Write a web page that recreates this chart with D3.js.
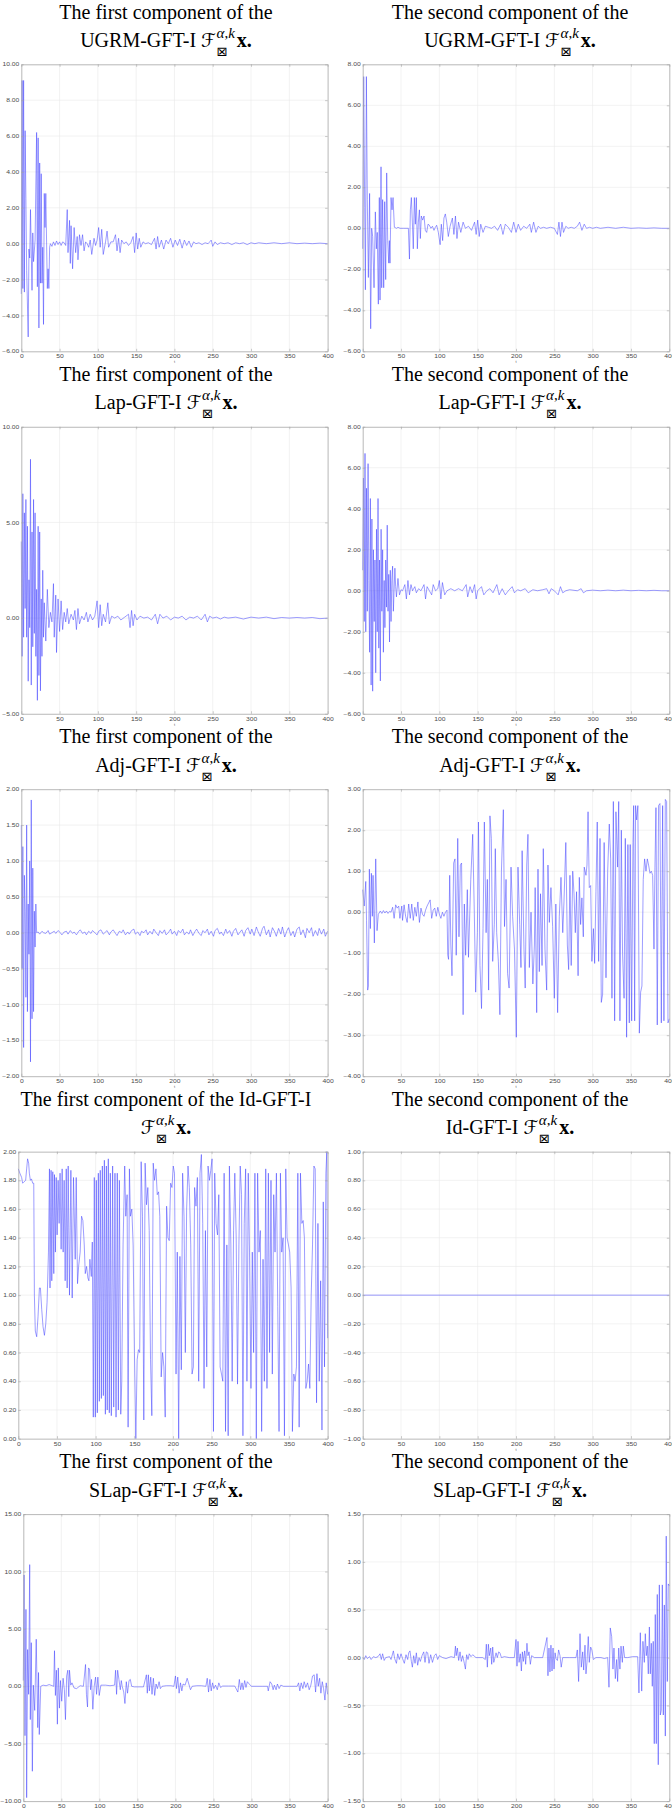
<!DOCTYPE html>
<html>
<head>
<meta charset="utf-8">
<script src="https://cdn.jsdelivr.net/npm/d3@7"></script>
<style>
  body { margin: 0; background: #fff; }
  svg { display: block; }
</style>
</head>
<body>
<svg id="chart" width="672" height="1811"></svg>
<script>
// ---- data ([t, value]) ----
const xTicks = [0, 50, 100, 150, 200, 250, 300, 350, 400];

const ugrmFirstTicks = [-6, -4, -2, 0, 2, 4, 6, 8, 10];
const ugrmSecondTicks = [-6, -4, -2, 0, 2, 4, 6, 8];
const lapFirstTicks = [-5, 0, 5, 10];
const lapSecondTicks = [-6, -4, -2, 0, 2, 4, 6, 8];
const adjFirstTicks = [-2, -1.5, -1, -0.5, 0, 0.5, 1, 1.5, 2];
const adjSecondTicks = [-4, -3, -2, -1, 0, 1, 2, 3];
const idFirstTicks = [0, 0.2, 0.4, 0.6, 0.8, 1, 1.2, 1.4, 1.6, 1.8, 2];
const idSecondTicks = [-1, -0.8, -0.6, -0.4, -0.2, 0, 0.2, 0.4, 0.6, 0.8, 1];
const slapFirstTicks = [-10, -5, 0, 5, 10, 15];
const slapSecondTicks = [-1.5, -1, -0.5, 0, 0.5, 1, 1.5];

const ugrmFirst = [[0,-2.8],[1,9.1],[2,-2.5],[3,9.1],[4,-2.7],[5,6.3],[6,2.5],[7,-1.5],[9,-5.2],[10,-0.3],[11,-0.8],[12,1.9],[14,-2.6],[15,0.6],[16,-1.0],[18,0.2],[20,6.2],[21,-2.4],[22,5.9],[23,-4.7],[24,4.5],[25,-2.2],[26,3.9],[27,-2.2],[28,-0.2],[29,-4.5],[30,2.8],[31,0.9],[32,2.8],[34,-2.5],[35,-1.4],[36,-2.5],[37,-0.2],[38,0],[40,-0.15],[42,0.1],[44,-0.1],[46,0.15],[48,-0.05],[50,0.1],[52,-0.1],[54,0.1],[56,0.05],[58,-0.1],[60,1.9],[61,-0.5],[63,1.3],[64,-1.1],[65,1.0],[67,-1.4],[69,0.9],[71,-0.5],[73,0.4],[74,-0.9],[76,0.5],[78,-0.1],[80,0.5],[82,-0.4],[84,0.1],[86,0.0],[88,-0.2],[90,0.2],[92,-0.6],[95,0.3],[97,-0.1],[99,0.2],[101,0.9],[103,-0.2],[105,0.8],[107,-0.6],[110,0.1],[112,0.7],[114,-0.2],[117,0.1],[120,0.1],[123,0.5],[125,-0.4],[127,0.3],[129,-0.5],[131,0.2],[134,0.0],[137,0.1],[140,-0.1],[143,0.05],[146,0.4],[148,-0.5],[150,0.6],[152,-0.3],[154,0.3],[156,-0.2],[159,0.1],[162,0.0],[166,0.05],[170,-0.05],[174,0.3],[176,-0.3],[178,0.4],[180,-0.2],[183,0.2],[186,-0.3],[189,0.2],[192,0.0],[195,0.3],[198,-0.2],[201,0.2],[204,-0.1],[207,0.25],[210,-0.25],[213,0.2],[216,-0.1],[219,0.15],[222,-0.2],[225,0.1],[228,0.0],[232,0.05],[236,-0.05],[240,0.05],[244,0.0],[248,0.2],[250,-0.15],[253,0.1],[256,-0.05],[260,0.05],[265,0.0],[270,0.05],[275,-0.05],[280,0.05],[285,0.0],[290,0.05],[295,-0.05],[300,0.05],[305,0.0],[310,0.05],[320,0.0],[330,0.05],[340,0.0],[350,0.05],[360,0.0],[370,0.03],[380,0.0],[390,0.03],[400,0.0]];

const ugrmSecond = [[0,-1.0],[1.3,7.4],[2.6,1.0],[3.5,-3.0],[4.8,7.4],[6,1.4],[7.4,-2.4],[9,1.7],[10.4,-4.9],[11.7,0.0],[13,-0.4],[14.8,-2.9],[16.5,0.8],[17.8,-1.0],[19,-0.2],[20.4,-3.7],[21.7,1.5],[22.6,-3.5],[23.9,3.0],[24.8,-2.9],[26,1.4],[27.4,-2.9],[28.7,1.3],[30,-2.5],[31.3,2.7],[32.6,-0.6],[34,-1.7],[34.8,-0.6],[35.6,-1.7],[37,1.5],[38.3,0.9],[39.6,1.5],[41.3,0.05],[44.3,0.0],[46,0.05],[48.7,0.0],[53,0.0],[59.6,0.0],[61,-1.5],[62.2,0.9],[63.5,1.5],[64.8,0.3],[66,-1.0],[67.4,1.5],[68.7,0.2],[70,1.5],[71.3,-1.0],[72.6,0.3],[74,0.9],[75.2,-0.5],[76.5,0.6],[78.3,0.4],[80,0.6],[81.7,-0.1],[83.5,-0.2],[85.2,0.2],[87,0.15],[89,0.0],[91,0.1],[93,-0.1],[94.8,0.05],[96.5,0.15],[98.7,-0.2],[101,-0.8],[102.6,0.2],[104.3,-0.6],[106,0.5],[107.8,0.7],[109.6,0.3],[111.7,-0.4],[114,0.1],[117,0.5],[119,-0.3],[121,0.6],[123,-0.5],[125,0.3],[128,-0.2],[131,0.3],[134,0.0],[138,0.1],[142,-0.1],[146,0.3],[148,-0.3],[150,0.4],[152,-0.4],[154,0.2],[157,-0.2],[160,0.1],[164,0.05],[168,0.0],[172,0.1],[176,-0.1],[180,0.2],[183,-0.3],[186,0.2],[190,0.05],[194,-0.2],[197,0.3],[200,-0.2],[203,0.2],[206,-0.1],[210,0.1],[214,0.0],[218,0.2],[220,-0.2],[223,0.3],[226,-0.2],[229,0.1],[232,0.0],[236,0.05],[240,0.0],[245,0.05],[250,0.0],[254,-0.3],[256,0.3],[258,-0.4],[260,0.3],[262,-0.2],[265,0.1],[268,0.0],[272,0.05],[276,0.0],[280,0.1],[283,0.3],[286,-0.1],[289,0.2],[292,0.0],[296,0.05],[300,0.0],[305,0.05],[310,0.0],[320,0.05],[330,0.0],[340,0.05],[350,0.0],[360,0.02],[370,0.0],[380,0.02],[390,0.0],[400,0.0]];

const lapFirst = [[0,4.0],[1,-2],[2,6.5],[3,-1],[4,5.5],[5,0.5],[6,6.2],[7,-1.0],[8,4.8],[9,-3.3],[10,2.0],[11,-0.5],[12,8.3],[13,-3.5],[14,4.5],[15,-1.5],[16,6.2],[17,-0.8],[18,5.5],[19,-2.0],[20,1.5],[21,-4.3],[22,4.8],[23,-3.0],[24,4.5],[25,-3.8],[26,1.0],[27,-2.0],[28,2.5],[29,-1.0],[30,0.8],[32,-1.2],[34,1.5],[36,-0.5],[38,0.3],[40,-0.2],[42,1.8],[43,-1.0],[45,1.2],[46,-1.8],[48,1.0],[50,-0.7],[52,0.9],[54,-0.6],[56,0.3],[58,-0.2],[60,0.5],[62,-0.3],[65,0.2],[68,-0.1],[70,0.4],[72,-0.6],[74,0.5],[76,-0.3],[79,0.1],[82,-0.1],[85,0.3],[87,-0.2],[90,0.2],[93,-0.1],[96,0.1],[99,0.9],[101,-0.5],[103,0.7],[105,-0.4],[107,0.2],[110,-0.2],[113,0.8],[115,-0.3],[118,0.1],[122,0.0],[126,0.1],[130,-0.1],[135,0.05],[140,0.2],[142,-0.5],[144,0.4],[146,-0.4],[148,0.2],[151,-0.1],[155,0.1],[160,0.0],[165,0.05],[170,-0.1],[175,0.2],[178,-0.3],[181,0.2],[185,0.0],[190,0.1],[195,-0.1],[200,0.05],[205,0.0],[210,0.1],[215,-0.1],[220,0.05],[225,0.0],[230,0.1],[235,-0.1],[240,0.2],[243,-0.2],[246,0.1],[250,0.0],[255,0.05],[260,-0.05],[265,0.05],[270,0.0],[280,0.05],[290,-0.05],[300,0.05],[310,0.0],[320,0.05],[330,-0.03],[340,0.03],[350,0.0],[360,0.03],[370,0.0],[380,0.03],[390,-0.03],[400,0.0]];

const lapSecond = [[0,1.0],[1,5.5],[2,-1.5],[3,6.7],[4,-2.0],[5,5.0],[6,-1.0],[7,6.2],[8,0.5],[9,-3.0],[10,4.5],[11,-4.6],[12,3.5],[13,-4.9],[14,2.0],[15,-1.5],[16,1.5],[17,-4.0],[18,3.0],[19,-2.0],[20,4.5],[21,-2.8],[22,1.5],[23,-4.4],[24,3.0],[25,-1.0],[26,2.0],[27,-3.0],[28,0.5],[29,-1.8],[30,1.5],[31,-0.8],[32,3.2],[33,-1.0],[34,0.8],[35,-2.5],[36,1.0],[37,-1.5],[38,0.5],[39,1.2],[40,-1.0],[42,1.1],[43,0.2],[44,-0.3],[46,0.6],[48,-0.2],[50,0.05],[52,0.0],[55,0.3],[57,-0.4],[59,0.5],[61,-0.2],[63,0.3],[65,0.0],[68,0.2],[70,-0.1],[73,0.1],[76,0.0],[80,0.3],[82,-0.4],[84,0.2],[87,0.0],[90,-0.2],[92,0.3],[95,0.0],[98,0.1],[100,0.5],[102,-0.4],[104,0.4],[107,-0.2],[110,0.0],[115,0.1],[120,0.0],[125,0.1],[130,0.0],[135,0.3],[137,-0.3],[140,0.2],[143,-0.1],[146,0.3],[148,-0.4],[150,0.0],[155,0.2],[158,-0.2],[162,0.0],[166,0.1],[170,-0.1],[175,0.3],[178,-0.2],[182,0.1],[186,-0.2],[190,0.0],[195,0.2],[198,-0.1],[202,0.05],[206,0.0],[212,0.1],[216,-0.1],[222,0.05],[228,0.0],[235,0.05],[240,0.1],[243,-0.15],[246,0.1],[250,0.0],[255,-0.2],[258,0.2],[261,-0.1],[265,0.0],[270,0.05],[280,0.0],[285,0.1],[288,-0.1],[292,0.0],[300,0.03],[310,0.0],[320,0.03],[330,0.0],[340,0.03],[350,0.0],[360,0.02],[370,0.0],[380,0.02],[390,0.0],[400,0.0]];

const adjFirst = [[0,1.5],[1,-0.5],[2,1.2],[3,-1.6],[4,0.8],[5,0.3],[6,-0.9],[7,1.5],[8,-1.1],[9,0.4],[10,-0.3],[11,1.0],[12,-1.8],[13,1.85],[14,-1.2],[15,0.9],[16,-1.1],[17,0.3],[18,-0.2],[19,0.4],[20,0.0],[22,0.01],[24,-0.02],[27,0.02],[29,0.0],[32,-0.01],[35,0.03],[37,-0.02],[40,0.0],[43,0.02],[45,-0.01],[48,0.03],[51,0.0],[53,-0.03],[56,0.01],[59,0.02],[61,-0.02],[64,0.03],[67,-0.01],[69,0.01],[72,-0.03],[75,0.02],[77,0.04],[80,-0.01],[83,0.01],[85,-0.03],[88,0.02],[91,-0.01],[93,0.03],[96,0.0],[99,-0.03],[101,0.02],[104,0.04],[107,-0.02],[109,0.0],[112,0.03],[115,-0.03],[117,0.01],[120,0.04],[123,-0.01],[125,-0.04],[128,0.02],[131,0.0],[133,0.04],[136,-0.03],[139,0.01],[141,-0.02],[144,0.03],[147,0.05],[149,-0.02],[152,0.01],[155,-0.04],[157,0.02],[160,0.0],[163,0.04],[165,-0.03],[168,0.02],[171,-0.02],[173,0.05],[176,0.0],[179,-0.04],[181,0.03],[184,-0.01],[187,0.04],[189,-0.03],[192,0.0],[195,0.05],[197,-0.02],[200,0.02],[203,-0.04],[205,0.03],[208,0.0],[211,0.05],[213,-0.03],[216,0.01],[219,-0.02],[221,0.04],[224,-0.04],[227,0.02],[229,0.05],[232,-0.01],[235,-0.04],[237,0.03],[240,0.0],[243,0.05],[245,-0.03],[248,0.02],[251,-0.05],[253,0.03],[256,0.06],[259,-0.02],[261,0.01],[264,-0.04],[267,0.05],[269,-0.01],[272,0.03],[275,-0.05],[277,0.02],[280,0.06],[283,-0.03],[285,0.0],[288,0.04],[291,-0.05],[293,0.03],[296,0.07],[299,-0.02],[301,0.05],[304,-0.04],[307,0.08],[309,0.02],[312,-0.05],[315,0.06],[317,0.09],[320,-0.03],[323,0.04],[325,-0.06],[328,0.07],[331,0.01],[333,-0.05],[336,0.06],[339,-0.02],[341,0.08],[344,-0.06],[347,0.03],[349,0.07],[352,-0.04],[355,0.02],[357,-0.06],[360,0.05],[363,0.08],[365,-0.03],[368,0.04],[371,-0.07],[373,0.06],[376,0.0],[379,0.07],[381,-0.05],[384,0.03],[387,-0.04],[389,0.06],[392,-0.02],[395,0.05],[397,-0.05],[400,0.02]];

const adjSecond = [[0,0.55],[2,0.15],[4,0.75],[5,-0.2],[6.5,-1.9],[7.4,-1.8],[8.7,1.05],[10,-0.4],[11.3,0.95],[12.6,-0.1],[13.5,0.9],[15.2,-0.75],[17,1.3],[18.7,-0.45],[20.4,-0.05],[23,0.03],[25,-0.03],[27,0.04],[29,-0.02],[31,0.03],[33,-0.03],[35,0.02],[37,0.0],[39,0.12],[41,-0.15],[43,0.18],[45,0.1],[47,0.15],[48.5,-0.15],[51,0.15],[52,-0.2],[54,0.18],[56,-0.1],[58,-0.25],[60,0.2],[62,-0.15],[64,0.2],[66,-0.2],[68,0.12],[70,-0.1],[72,0.25],[74,-0.25],[76,0.1],[78,-0.05],[80,-0.1],[82,0.05],[84,0.15],[88,0.3],[90,-0.15],[92,0.05],[94,0.1],[96,-0.1],[98,0.12],[100,-0.05],[102,-0.15],[104,0.0],[106,-0.1],[108,0.0],[110,0.05],[111,-1.05],[112,-1.15],[113.5,0.9],[115,-0.8],[116.5,-1.55],[118.7,1.2],[120.4,1.3],[122,-1.05],[124,1.8],[125.6,-0.6],[127.4,1.15],[129,1.2],[131,-2.5],[132.6,0.2],[134.3,-1.05],[136.5,0.55],[138,-1.1],[141,0.8],[143.5,1.9],[145.6,0.0],[147.4,-1.95],[149.6,-0.5],[151,2.2],[153,-1.3],[155,-2.35],[157,-0.4],[158.7,2.2],[161,-0.5],[162.6,0.8],[164.3,-1.9],[166,2.35],[167.8,1.8],[169.6,-1.2],[171.7,-0.3],[173,1.55],[174.8,-0.5],[177,-1.2],[179,-2.5],[181,1.0],[183.5,2.5],[185,-0.35],[187,0.8],[189,-1.5],[191,-1.85],[193.5,1.1],[195.6,-0.1],[198,-0.9],[200.4,-3.05],[202.6,1.1],[204.8,-0.3],[206.5,-1.35],[208,1.5],[210.4,-0.9],[212,-1.85],[214,1.15],[215.6,1.9],[217.4,-1.35],[219.6,0.0],[222,-1.75],[224,-0.8],[225,0.6],[227,-2.45],[228.7,1.05],[230.4,-1.45],[232,0.45],[234,-1.3],[235.6,1.55],[237.8,-0.9],[240,-1.9],[241.7,1.15],[243.5,-0.25],[245.6,0.6],[247.8,-0.35],[250,-2.1],[252,0.2],[254.3,-2.45],[256.5,-0.1],[258.7,0.85],[261,-0.5],[262.6,0.25],[265,1.7],[267,-0.8],[268.7,-1.4],[270.4,0.9],[272,-1.3],[274,1.0],[275.7,0.45],[277.4,-0.5],[279,0.5],[281,-1.55],[282.6,0.85],[284.3,-0.3],[286,0.35],[287.8,-0.6],[289,1.1],[291.3,0.9],[292.6,1.15],[294,2.45],[295.6,0.6],[297.4,0.65],[299,-1.2],[301,-0.4],[302.6,-1.25],[304.3,0.5],[306,2.2],[307.8,-1.2],[309.6,1.8],[311.3,-2.2],[313,-2.0],[315,1.7],[317.4,-1.6],[319.6,1.0],[321.7,2.15],[323.5,1.3],[325.2,-2.1],[327,2.7],[328.7,-2.65],[330.4,2.45],[332.6,1.1],[334,2.7],[335.6,-2.65],[337.4,2.0],[339,-1.0],[341,-2.1],[342.6,1.8],[344.3,-3.05],[346,1.65],[347.8,-2.7],[349,1.65],[350.9,-2.65],[352.6,1.7],[353.5,2.6],[354.8,-2.65],[356,2.6],[357.4,2.25],[359,2.6],[360.9,-2.95],[362.6,-1.95],[364.3,-1.8],[366,0.8],[367.8,1.3],[369.6,1.0],[371.3,1.3],[373,1.15],[374.8,0.95],[376.5,1.0],[378.3,0.9],[380,-0.9],[381.3,1.1],[382.6,2.55],[384.3,-2.75],[386,2.6],[387.8,2.65],[389.6,-2.7],[391.3,2.6],[393,-2.65],[394.8,2.75],[396.5,2.7],[398.3,-2.7],[400,-2.6]];

const idFirst = [[0,1.88],[2,1.85],[4.3,1.82],[5.6,1.78],[7.4,1.79],[9.5,1.8],[10.8,1.88],[12,1.95],[13.4,1.92],[14.3,1.85],[15.6,1.8],[17,1.81],[18.6,1.78],[20,1.78],[20.8,1.0],[22,0.75],[23.8,0.71],[25.5,0.85],[27.3,1.05],[28.6,1.05],[30.3,0.9],[32,0.78],[33.8,0.72],[35.5,0.8],[37.2,0.95],[39,1.3],[40.3,1.88],[41,1.05],[42.4,1.87],[43.3,1.1],[44.6,1.86],[45.9,1.15],[46.8,1.84],[48,1.3],[49,1.82],[50.2,1.42],[51.5,1.8],[52.8,1.5],[54,1.85],[55.4,1.32],[56.7,1.88],[58,1.3],[59.3,1.8],[60.6,1.1],[62,1.88],[63.2,1.05],[64.5,1.9],[66.2,1.0],[68,1.87],[69.7,0.98],[71.4,1.82],[73.6,1.25],[74.9,1.82],[76.6,1.08],[78,1.2],[80,1.3],[81.8,1.55],[83.5,1.52],[85.3,1.35],[86.6,1.15],[88.3,1.2],[90,1.12],[91.3,1.1],[92.6,1.25],[94.4,1.13],[95.7,1.37],[97,0.15],[98.3,1.82],[99.6,0.15],[100.9,1.8],[102.2,0.18],[103.5,1.85],[104.8,0.26],[106,1.87],[107.4,0.28],[108.7,1.9],[110,0.3],[111.3,1.94],[112.6,0.17],[113.9,1.9],[115,0.2],[116.4,1.95],[117.7,0.18],[119,1.85],[120.3,0.16],[122,1.9],[123.4,0.22],[125,1.85],[126.4,0.15],[128,1.85],[129.4,0.2],[130.7,1.8],[132.5,0.17],[133.8,0.4],[135.5,1.35],[137.6,1.9],[139,1.55],[140.7,1.7],[142,0.08],[143.7,1.88],[145,1.55],[146.8,1.6],[148.5,1.35],[150.2,0.6],[152,0.0],[153.7,0.55],[155.4,0.62],[157,0.6],[158.9,1.93],[160.6,1.55],[162.3,0.13],[164,1.92],[165.8,1.63],[167.5,1.75],[169.3,1.45],[171,0.55],[172.7,0.16],[174.5,1.92],[176.2,1.8],[178,1.88],[179.7,1.7],[181.4,1.72],[183,1.55],[184.8,0.43],[186.6,0.6],[188.3,0.5],[190,0.15],[191.8,1.62],[193.5,1.4],[195.2,1.38],[197,1.78],[198.7,1.75],[200.4,1.9],[202,1.85],[204,0.45],[205.6,1.3],[207.4,0.0],[209,1.27],[210.8,0.48],[212.5,1.85],[214.3,1.55],[216,0.6],[217.7,1.6],[219.5,1.9],[221.2,1.75],[223,1.35],[224.7,0.45],[226.4,0.5],[228,1.75],[229.8,1.62],[231.6,1.82],[233.3,0.4],[235,1.85],[236.8,1.98],[238.5,1.5],[240.2,0.35],[242,1.45],[243.7,0.5],[245.4,1.9],[247.2,1.8],[248.9,1.87],[250.6,1.95],[252.4,0.05],[254,1.85],[255.8,1.5],[257.6,1.42],[259.3,1.7],[261,0.5],[262.8,0.45],[264.5,0.4],[266.2,1.85],[268,0.05],[269.7,1.35],[271.4,0.02],[273,1.9],[274.9,1.35],[276.6,0.4],[278.4,1.45],[280,1.85],[281.8,1.4],[283.5,0.38],[285.3,1.35],[287,1.9],[288.7,1.7],[290.5,0.02],[292.2,1.5],[294,1.88],[295.7,0.4],[297.4,1.85],[299,1.3],[300.9,0.35],[302.6,1.3],[304.3,0.6],[306,1.85],[307.8,0.0],[309.5,1.85],[311.3,1.3],[313,1.45],[314.7,0.05],[316.5,1.25],[318.2,0.4],[320,1.88],[321.6,0.35],[323.4,1.85],[325,0.6],[326.8,1.8],[328.5,0.45],[330.3,1.7],[332,1.3],[333.8,1.85],[335.5,0.92],[337.2,0.05],[339,1.85],[340.7,1.3],[342.4,1.4],[344.2,0.02],[345.9,1.88],[347.6,1.4],[349.4,1.35],[351,1.3],[352.8,1.05],[354.5,0.05],[356.3,0.45],[358,0.4],[359.7,0.5],[361.5,1.85],[363.2,0.08],[364.9,1.85],[366.7,1.5],[368.4,1.52],[370,1.4],[371.9,0.35],[373.6,0.4],[375.3,0.52],[377,0.35],[378.8,1.0],[380.5,1.35],[382.3,1.9],[384,1.88],[385.7,0.25],[387.5,1.5],[389.2,0.4],[391,1.1],[392.7,0.06],[394.4,1.65],[396,0.5],[397.8,1.85],[399,2.0],[400,0.7]];

const idSecond = [[0,0],[400,0]];

const slapFirst = [[0,0.5],[1,9.7],[2.2,-4.3],[3.5,6.7],[4.4,-9.7],[5.7,3.2],[7,-0.7],[8.4,10.6],[9.2,-2.9],[10.5,3.8],[11.9,-7.4],[13.2,0.1],[15,-2.1],[17,4.1],[19,-3.6],[20,1.2],[21,-4.2],[22.9,0.0],[26,0.1],[30,0.05],[34,0.15],[38,0.05],[40,0.0],[41,3.1],[42.2,-0.8],[43.5,1.4],[44.8,-3.3],[46,1.6],[47.5,-1.9],[48.8,0.5],[50.5,-1.3],[52.3,0.7],[54,-0.3],[55.4,-2.9],[57,0.9],[58.5,1.4],[59.8,-0.9],[60.7,1.4],[62.4,0.1],[64,0.3],[66.8,-0.15],[70,-0.2],[74.7,0.05],[79,0.0],[81.8,1.9],[83,-0.7],[84.4,-1.8],[85.7,1.6],[87,1.5],[88.4,-0.3],[89.7,0.6],[91.4,-2.0],[93.2,0.0],[95,0.8],[96.3,-0.7],[98,0.8],[99.8,-0.8],[102,0.1],[108,0.1],[114,0.05],[120,0.1],[121.3,1.4],[122.6,-0.7],[124,1.4],[125.7,0.6],[127.5,-0.3],[128.8,0.5],[130,0.0],[132,-0.5],[133.6,-1.5],[135.4,0.4],[137,-0.6],[139,0.5],[140.7,0.6],[142.4,0.0],[146,-0.05],[152,-0.05],[158,-0.05],[161.8,1.0],[163,-0.6],[164.4,1.0],[165.7,-0.4],[167.5,0.8],[169.2,-0.7],[171,0.7],[172.7,-0.8],[174.5,0.2],[176.3,-0.2],[178.5,0.4],[180.2,-0.2],[182.4,0.0],[188,0.05],[194,0.05],[198,0.0],[200,0.9],[201.3,-0.2],[203,0.8],[204.8,-0.6],[206.6,0.3],[208.4,-0.4],[210,0.2],[212.7,0.1],[215.4,0.7],[217.6,0.2],[219.8,-0.3],[222,0.0],[228,0.05],[234,0.05],[240,0.0],[241.8,0.7],[243.5,-0.5],[245.3,0.6],[247,-0.4],[248.8,0.3],[250.5,-0.2],[252.7,0.1],[255,-0.3],[257,0.3],[259.3,-0.1],[262,0.02],[270,0.02],[278,0.02],[282,-0.5],[284,0.6],[285.7,-0.3],[287.5,0.3],[289,-0.3],[291,0.5],[292.7,-0.1],[294.5,0.4],[297,0.2],[299.8,0.0],[306,0.0],[314,0.0],[321,0.0],[322,-0.4],[324.4,0.4],[326.6,0.2],[328.4,-0.3],[330,0.1],[332.3,-0.3],[334,0.2],[336.3,-0.2],[338.5,0.1],[342,0.0],[350,0.0],[360,0.0],[361.8,0.3],[363.5,-0.4],[365.3,0.3],[367.5,-0.2],[369.2,0.4],[371.4,-0.1],[373.6,0.3],[375.8,-0.3],[378,0.1],[380.2,0.9],[382.4,1.0],[384.2,-0.5],[386,1.1],[387.7,0.0],[389.5,0.7],[391.2,-0.6],[393,0.4],[394.7,-0.2],[396.5,-1.2],[398.2,0.3],[400,-0.7]];

const slapSecond = [[0,0.0],[2,-0.02],[4,0.02],[6,-0.01],[9,0.01],[11,-0.02],[14,0.01],[17,0.0],[20,0.01],[22.6,0.04],[24.3,-0.02],[26,0.04],[28,-0.03],[30,0.0],[35,0.01],[37,-0.02],[40,0.07],[41.7,-0.01],[44,-0.06],[45.7,0.04],[47.8,-0.02],[50,0.04],[52,-0.01],[54.3,-0.06],[56.5,0.03],[58.7,-0.02],[60,0.05],[61.7,0.07],[63.5,-0.04],[64.8,-0.1],[66.5,0.02],[68.3,-0.06],[70,0.05],[71.7,-0.08],[73.5,0.0],[75.2,-0.04],[77.4,0.02],[79.6,0.06],[81.3,-0.05],[83,0.06],[84.8,0.05],[86.5,-0.06],[88.7,0.03],[91,-0.05],[93.5,0.02],[95.7,0.04],[97.8,-0.02],[100,0.02],[104.3,0.0],[108.7,-0.01],[115.2,0.01],[119.6,0.0],[121,0.12],[122,0.02],[123.5,0.1],[125.2,-0.03],[127,0.06],[128.7,-0.04],[130.4,0.02],[132.6,-0.06],[134,-0.12],[135.6,0.03],[137.4,-0.02],[139,0.04],[141.3,0.01],[143.5,0.03],[147.8,0.0],[156.5,0.0],[160,-0.02],[161.3,0.14],[162.6,-0.1],[164,0.14],[165.2,0.02],[167,0.1],[168.3,-0.07],[169.6,0.11],[171,-0.05],[172.2,-0.01],[174,0.05],[175.6,0.0],[177.4,0.06],[179,0.05],[181,0.0],[184.8,0.01],[191.3,0.0],[197.8,0.0],[200,0.19],[201.3,-0.09],[202.6,0.17],[204,-0.05],[205.6,0.04],[207,-0.14],[208.3,0.06],[209.6,-0.04],[211.3,0.07],[212.6,-0.07],[214.3,0.15],[215.6,0.02],[217,0.06],[218.7,-0.07],[220.4,0.02],[224,0.0],[234.8,0.0],[240.4,0.21],[241.7,-0.19],[243,0.1],[244.3,-0.15],[245.6,0.13],[247,-0.14],[248.3,0.1],[249.6,-0.12],[251,0.05],[252.2,-0.01],[254,-0.03],[255.6,0.08],[257.4,0.02],[259,-0.1],[260.9,0.0],[269.6,0.0],[278.3,0.0],[280,0.08],[281.7,-0.25],[283.5,0.25],[285.2,-0.1],[287,0.06],[288.3,-0.13],[290,0.13],[291.3,-0.17],[292.6,-0.05],[294.3,0.22],[295.6,-0.05],[297.4,0.11],[299,0.08],[300.9,-0.02],[304.3,0.0],[310.9,0.0],[315.2,-0.01],[319.6,0.0],[321.3,-0.31],[323,0.31],[324.8,0.22],[326.5,-0.12],[327.8,0.1],[329.6,-0.22],[331.3,-0.02],[332.6,-0.25],[334,0.1],[335.6,-0.12],[337,0.12],[338.7,-0.05],[340,0.12],[341.7,0.0],[345.7,0.0],[352.2,0.01],[358.7,0.01],[360.4,-0.37],[362.2,0.26],[364,-0.35],[365.6,0.17],[367.4,-0.05],[368.7,0.25],[370,0.02],[371.3,0.12],[372.6,-0.17],[374,0.32],[375.2,-0.17],[376.5,0.15],[377.8,-0.3],[379,0.17],[380.4,-0.9],[381.7,0.45],[383,-0.9],[384.3,0.66],[385.6,-1.12],[387,0.76],[388.3,-0.6],[389.6,-0.55],[390.9,0.76],[392.2,-0.6],[393.5,0.55],[394.8,-0.82],[396,1.27],[397.4,-0.25],[398.7,0.77],[400,0.75]];

// ---- panel configuration ----
const panels = [
  { row: 0, col: 0, method: "UGRM-GFT-I", comp: "first",  data: ugrmFirst,  yTicks: ugrmFirstTicks,  left: 21.3 },
  { row: 0, col: 1, method: "UGRM-GFT-I", comp: "second", data: ugrmSecond, yTicks: ugrmSecondTicks, left: 362.7 },
  { row: 1, col: 0, method: "Lap-GFT-I",  comp: "first",  data: lapFirst,   yTicks: lapFirstTicks,   left: 21.3 },
  { row: 1, col: 1, method: "Lap-GFT-I",  comp: "second", data: lapSecond,  yTicks: lapSecondTicks,  left: 362.7 },
  { row: 2, col: 0, method: "Adj-GFT-I",  comp: "first",  data: adjFirst,   yTicks: adjFirstTicks,   left: 21.3 },
  { row: 2, col: 1, method: "Adj-GFT-I",  comp: "second", data: adjSecond,  yTicks: adjSecondTicks,  left: 362.7 },
  { row: 3, col: 0, method: "Id-GFT-I",   comp: "first",  data: idFirst,    yTicks: idFirstTicks,    left: 18.3, oneLine: true },
  { row: 3, col: 1, method: "Id-GFT-I",   comp: "second", data: idSecond,   yTicks: idSecondTicks,   left: 362.7 },
  { row: 4, col: 0, method: "SLap-GFT-I", comp: "first",  data: slapFirst,  yTicks: slapFirstTicks,  left: 23.3 },
  { row: 4, col: 1, method: "SLap-GFT-I", comp: "second", data: slapSecond, yTicks: slapSecondTicks, left: 362.7 }
];

const rowPitch = 362.45;
const plotTop = 64.3, plotH = 287;
const rightEdge = [327.6, 669.3];
const titleCx = [166, 510];
const serif = "'Liberation Serif', 'Times New Roman', serif";
const sans = "'Liberation Sans', Arial, sans-serif";
const fmt = d3.format(".2f");

const svg = d3.select("#chart");

function stretch(sel, k) {
  sel.each(function () {
    const w = this.getComputedTextLength();
    d3.select(this).attr("textLength", w * k).attr("lengthAdjust", "spacingAndGlyphs");
  });
}

// second title line: "<method> F^{alpha,k}_[x] x."
function mathTitle(g, prefix, cx, base) {
  const t = g.append("g").style("font-family", serif).attr("fill", "#000");
  let xp = 0;
  if (prefix) {
    const pre = t.append("text").attr("x", 0).attr("y", base).style("font-size", "20px").text(prefix);
    xp = pre.node().getComputedTextLength() + 5;
  }
  const F = t.append("text").attr("x", xp).attr("y", base)
    .style("font-family", "'DejaVu Sans', sans-serif").style("font-size", "19px")
    .text("\u2131");
  xp += F.node().getComputedTextLength() + 0.5;
  const sup = t.append("text").attr("x", xp).attr("y", base - 9).style("font-size", "15px");
  sup.append("tspan").style("font-style", "italic").text("\u03b1");
  sup.append("tspan").text(",");
  sup.append("tspan").style("font-style", "italic").text("k");
  const sub = t.append("text").attr("x", xp).attr("y", base + 9)
    .style("font-family", "'DejaVu Sans', sans-serif").style("font-size", "13px").text("\u22a0");
  xp += Math.max(sup.node().getComputedTextLength(), sub.node().getComputedTextLength()) + 2;
  const xv = t.append("text").attr("x", xp).attr("y", base).style("font-size", "20px").style("font-weight", "bold").text("x.");
  const total = xp + xv.node().getComputedTextLength();
  t.attr("transform", `translate(${cx - total / 2},0)`);
}

panels.forEach(p => {
  const off = p.row * rowPitch;
  const top = plotTop + off, bottom = top + plotH;
  const left = p.left, right = rightEdge[p.col];
  const x = d3.scaleLinear().domain([0, 400]).range([left, right]);
  const y = d3.scaleLinear().domain(d3.extent(p.yTicks)).range([bottom, top]);
  const g = svg.append("g");

  // titles
  const cx = titleCx[p.col];
  const line1 = `The ${p.comp} component of the` + (p.oneLine ? ` ${p.method}` : "");
  g.append("text").attr("x", cx).attr("y", 18.5 + off).attr("text-anchor", "middle")
    .style("font-family", serif).style("font-size", "20px").text(line1);
  mathTitle(g, p.oneLine ? "" : p.method, cx, 46.7 + off);

  // grid
  g.append("g").selectAll("line").data(xTicks.slice(1, -1)).join("line")
    .attr("x1", d => x(d)).attr("x2", d => x(d)).attr("y1", top).attr("y2", bottom)
    .attr("stroke", "#e9e9e9").attr("stroke-width", 0.6);
  g.append("g").selectAll("line").data(p.yTicks.slice(1, -1)).join("line")
    .attr("x1", left).attr("x2", right).attr("y1", d => y(d)).attr("y2", d => y(d))
    .attr("stroke", "#e9e9e9").attr("stroke-width", 0.6);

  // signal
  g.append("path").datum(p.data)
    .attr("d", d3.line().x(d => x(d[0])).y(d => y(d[1])))
    .attr("fill", "none").attr("stroke", "#3d3dff").attr("stroke-width", 0.6)
    .attr("stroke-opacity", 0.85).attr("stroke-linejoin", "round");

  // axes (box with inward ticks)
  const axB = g.append("g").attr("transform", `translate(0,${bottom})`)
    .call(d3.axisBottom(x).tickValues(xTicks).tickSizeInner(-2.5).tickSizeOuter(0).tickPadding(3.5).tickFormat(d3.format("d")));
  const axT = g.append("g").attr("transform", `translate(0,${top})`)
    .call(d3.axisTop(x).tickValues(xTicks).tickSizeInner(-2.5).tickSizeOuter(0).tickFormat(""));
  const axL = g.append("g").attr("transform", `translate(${left},0)`)
    .call(d3.axisLeft(y).tickValues(p.yTicks).tickSizeInner(-2.5).tickSizeOuter(0).tickPadding(2).tickFormat(fmt));
  const axR = g.append("g").attr("transform", `translate(${right},0)`)
    .call(d3.axisRight(y).tickValues(p.yTicks).tickSizeInner(-2.5).tickSizeOuter(0).tickFormat(""));
  [axB, axT, axL, axR].forEach(a => {
    a.select(".domain").attr("stroke", "#a6a6a6").attr("stroke-width", 0.8);
    a.selectAll(".tick line").attr("stroke", "#a6a6a6").attr("stroke-width", 0.6);
    a.selectAll("text").attr("fill", "#4a4a4a").style("font-family", sans).style("font-size", "5px");
  });
  stretch(axB.selectAll("text"), 1.35);
  stretch(axL.selectAll("text"), 1.35);

  // tiny x label (falls off the page on the last row, as in the reference)
  if (p.row < 4) {
    g.append("text").attr("x", (left + right) / 2).attr("y", bottom + 12).attr("text-anchor", "middle")
      .style("font-family", sans).style("font-size", "4px").attr("fill", "#555").text("t");
  }
});
</script>
</body>
</html>
